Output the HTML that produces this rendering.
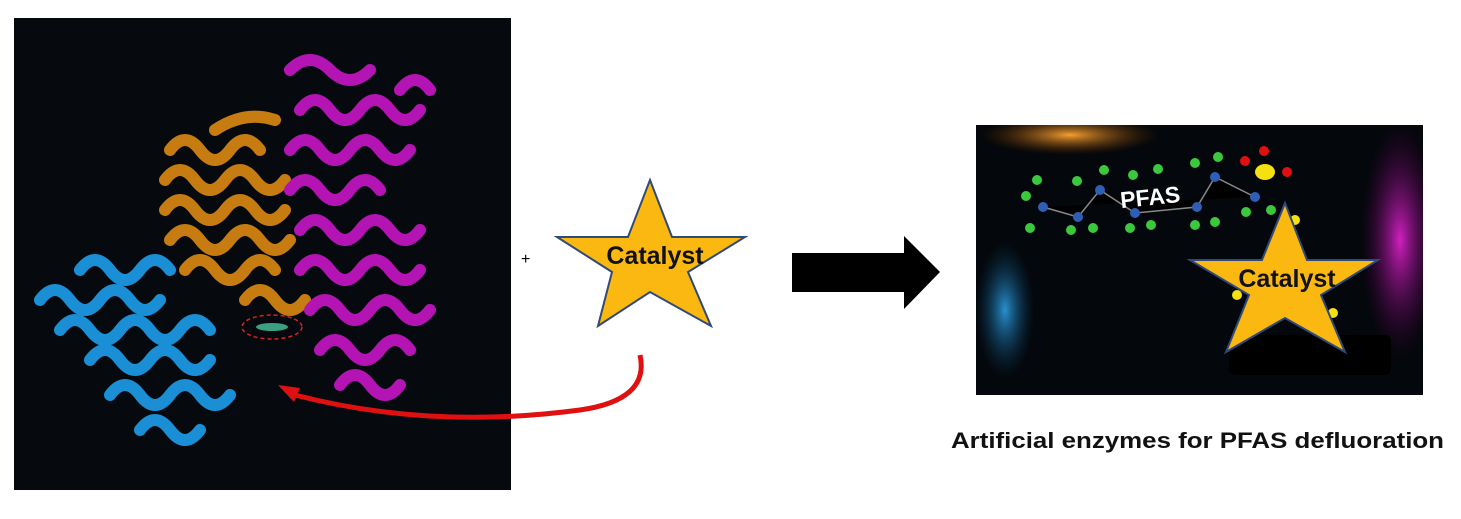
<!DOCTYPE html>
<html><head><meta charset="utf-8"><style>
html,body{margin:0;padding:0;background:#fff;width:1461px;height:519px;overflow:hidden}
svg{display:block}
</style></head><body>
<svg width="1461" height="519" viewBox="0 0 1461 519" xmlns="http://www.w3.org/2000/svg">
<defs>
<radialGradient id="og" cx="0.5" cy="0.5" r="0.5"><stop offset="0" stop-color="#f5a030"/><stop offset="1" stop-color="#6a3000" stop-opacity="0"/></radialGradient>
<radialGradient id="bg" cx="0.5" cy="0.5" r="0.5"><stop offset="0" stop-color="#2a90d0"/><stop offset="1" stop-color="#05324f" stop-opacity="0"/></radialGradient>
<radialGradient id="mg" cx="0.5" cy="0.5" r="0.5"><stop offset="0" stop-color="#d020c0"/><stop offset="1" stop-color="#400040" stop-opacity="0"/></radialGradient>
<clipPath id="rp"><rect x="976" y="125" width="447" height="270"/></clipPath>
</defs>
<rect x="14" y="18" width="497" height="472" fill="#060a0f"/>
<g fill="none" stroke-width="12" stroke-linecap="round">
 <g stroke="#c77c12">
  <path d="M170 150 q15 -20 30 0 q15 20 30 0 q15 -20 30 0"/>
  <path d="M165 180 q15 -20 30 0 q15 20 30 0 q15 -20 30 0 q15 20 30 0"/>
  <path d="M165 210 q15 -20 30 0 q15 20 30 0 q15 -20 30 0 q15 20 30 0"/>
  <path d="M170 240 q15 -20 30 0 q15 20 30 0 q15 -20 30 0 q15 20 30 0"/>
  <path d="M185 270 q15 -20 30 0 q15 20 30 0 q15 -20 30 0"/>
  <path d="M245 300 q15 -20 30 0 q15 20 30 0"/>
  <path d="M215 130 q30 -20 60 -10"/>
 </g>
 <g stroke="#b414b4">
  <path d="M290 70 q20 -20 40 0 q20 20 40 0"/>
  <path d="M300 110 q15 -20 30 0 q15 20 30 0 q15 -20 30 0 q15 20 30 0"/>
  <path d="M290 150 q15 -20 30 0 q15 20 30 0 q15 -20 30 0 q15 20 30 0"/>
  <path d="M290 190 q15 -20 30 0 q15 20 30 0 q15 -20 30 0"/>
  <path d="M300 230 q15 -20 30 0 q15 20 30 0 q15 -20 30 0 q15 20 30 0"/>
  <path d="M300 270 q15 -20 30 0 q15 20 30 0 q15 -20 30 0 q15 20 30 0"/>
  <path d="M310 310 q15 -20 30 0 q15 20 30 0 q15 -20 30 0 q15 20 30 0"/>
  <path d="M320 350 q15 -20 30 0 q15 20 30 0 q15 -20 30 0"/>
  <path d="M340 385 q15 -20 30 0 q15 20 30 0"/>
  <path d="M400 90 q15 -20 30 0"/>
 </g>
 <g stroke="#1b8fd6">
  <path d="M40 300 q15 -20 30 0 q15 20 30 0 q15 -20 30 0 q15 20 30 0"/>
  <path d="M80 270 q15 -20 30 0 q15 20 30 0 q15 -20 30 0"/>
  <path d="M60 330 q15 -20 30 0 q15 20 30 0 q15 -20 30 0 q15 20 30 0 q15 -20 30 0"/>
  <path d="M90 360 q15 -20 30 0 q15 20 30 0 q15 -20 30 0 q15 20 30 0"/>
  <path d="M110 395 q15 -20 30 0 q15 20 30 0 q15 -20 30 0 q15 20 30 0"/>
  <path d="M140 430 q15 -20 30 0 q15 20 30 0"/>
 </g>
</g>
<ellipse cx="272" cy="327" rx="30" ry="12" fill="none" stroke="#e02020" stroke-width="1.5" stroke-dasharray="4 3"/>
<ellipse cx="272" cy="327" rx="16" ry="4" fill="#3aa080"/>
<path d="M640 355 Q650 400 580 410 Q430 430 295 395" fill="none" stroke="#e01010" stroke-width="5"/>
<polygon points="278,385 300,388 294,402" fill="#e01010"/>
<text x="521" y="264" font-family="Liberation Sans, sans-serif" font-size="16" fill="#000">+</text>
<polygon points="650,180 672,237 745,237 688,272 711,326 650,292 598,326 612,272 557,237 628,237" fill="#fbb811" stroke="#2e4a7a" stroke-width="2"/>
<text x="655" y="264" text-anchor="middle" font-family="Liberation Sans, sans-serif" font-weight="bold" font-size="25" fill="#111">Catalyst</text>
<polygon points="792,253 904,253 904,236 940,272 904,309 904,292 792,292" fill="#000"/>
<rect x="976" y="125" width="447" height="270" fill="#04070b"/>
<g clip-path="url(#rp)">
<ellipse cx="1070" cy="135" rx="90" ry="20" fill="url(#og)"/>
<ellipse cx="1005" cy="310" rx="30" ry="70" fill="url(#bg)"/>
<ellipse cx="1400" cy="240" rx="40" ry="120" fill="url(#mg)"/>
</g>
<rect x="1229" y="335" width="162" height="40" rx="6" fill="#000"/>
<g stroke="#888" stroke-width="1.5">
 <path d="M1043 207 L1078 217 L1100 190 L1135 213 L1197 207 L1215 177 L1255 197"/>
</g>
<g fill="#2e5fb5">
 <circle cx="1043" cy="207" r="5"/><circle cx="1078" cy="217" r="5"/><circle cx="1100" cy="190" r="5"/><circle cx="1135" cy="213" r="5"/><circle cx="1197" cy="207" r="5"/><circle cx="1215" cy="177" r="5"/><circle cx="1255" cy="197" r="5"/>
</g>
<g fill="#3cc83c">
 <circle cx="1037" cy="180" r="5"/><circle cx="1026" cy="196" r="5"/><circle cx="1030" cy="228" r="5"/><circle cx="1077" cy="181" r="5"/><circle cx="1071" cy="230" r="5"/><circle cx="1093" cy="228" r="5"/><circle cx="1104" cy="170" r="5"/><circle cx="1130" cy="228" r="5"/><circle cx="1151" cy="225" r="5"/><circle cx="1133" cy="175" r="5"/><circle cx="1158" cy="169" r="5"/><circle cx="1195" cy="163" r="5"/><circle cx="1218" cy="157" r="5"/><circle cx="1195" cy="225" r="5"/><circle cx="1215" cy="222" r="5"/><circle cx="1246" cy="212" r="5"/><circle cx="1271" cy="210" r="5"/>
</g>
<g fill="#e01010"><circle cx="1245" cy="161" r="5"/><circle cx="1264" cy="151" r="5"/><circle cx="1287" cy="172" r="5"/></g>
<ellipse cx="1265" cy="172" rx="10" ry="8" fill="#f5e010"/>
<g fill="#f5e010"><circle cx="1295" cy="220" r="5"/><circle cx="1237" cy="295" r="5"/><circle cx="1333" cy="313" r="5"/></g>
<text x="1151" y="205" text-anchor="middle" font-family="Liberation Sans, sans-serif" font-weight="bold" font-size="23" fill="#fff" transform="rotate(-6 1151 205)">PFAS</text>
<polygon points="1285,203 1307,260 1378,260 1321,295 1345,352 1285,318 1226,352 1249,295 1190,260 1262,260" fill="#fbb811" stroke="#2e4a7a" stroke-width="2"/>
<text x="1287" y="287" text-anchor="middle" font-family="Liberation Sans, sans-serif" font-weight="bold" font-size="25" fill="#111">Catalyst</text>
<text x="951" y="448" textLength="493" lengthAdjust="spacingAndGlyphs" font-family="Liberation Sans, sans-serif" font-weight="bold" font-size="22" fill="#111">Artificial enzymes for PFAS defluoration</text>
</svg>
</body></html>
